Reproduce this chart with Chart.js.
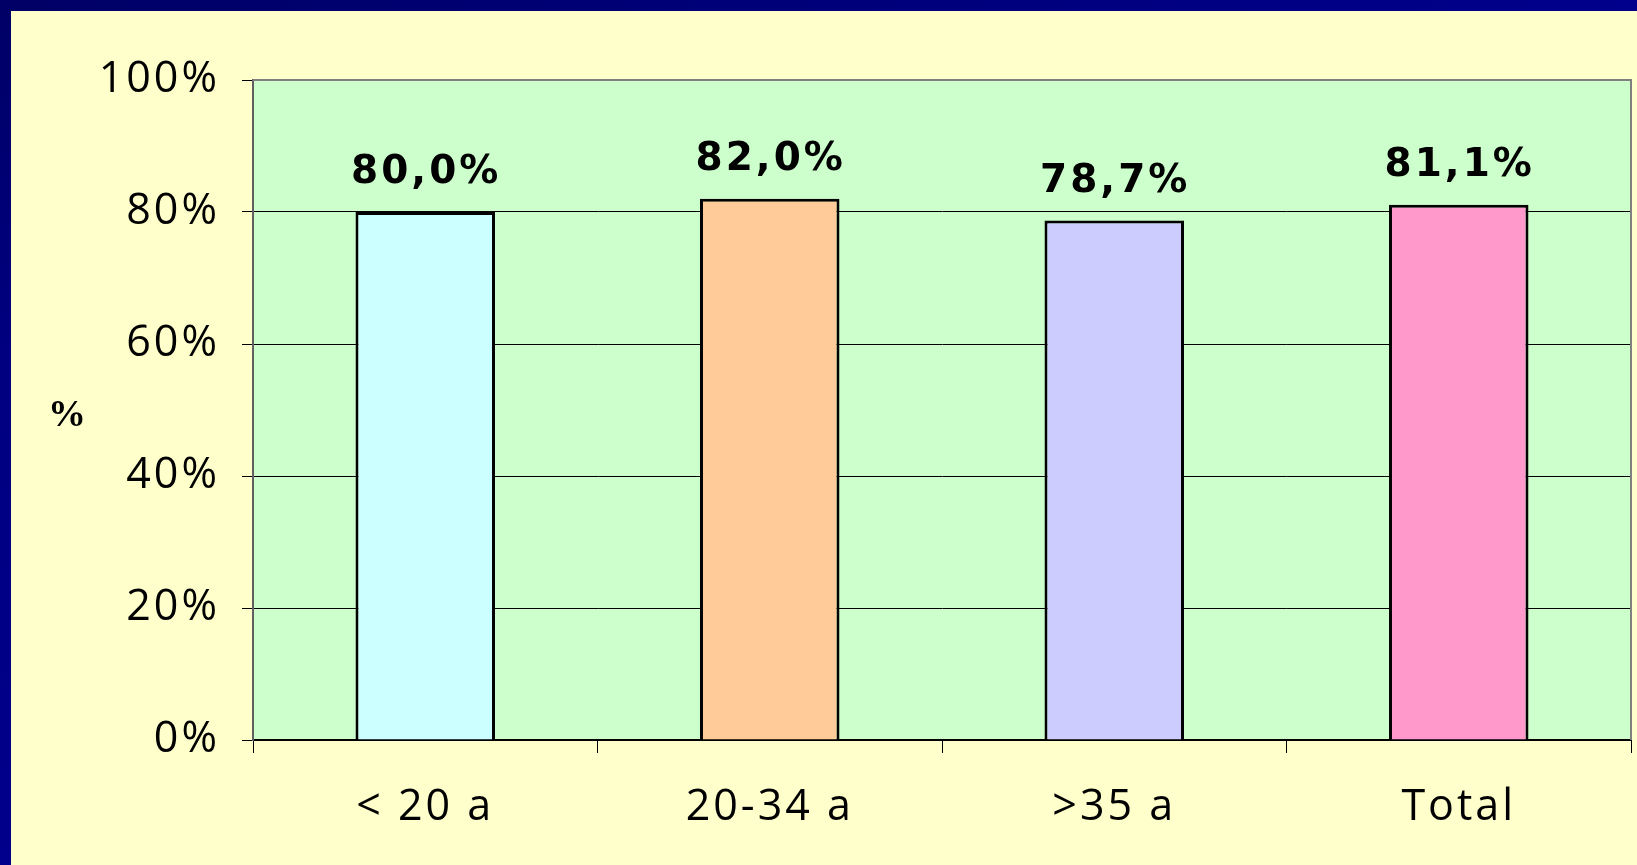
<!DOCTYPE html>
<html>
<head>
<meta charset="utf-8">
<script src="https://cdn.jsdelivr.net/npm/chart.js@4/dist/chart.umd.min.js"></script>
<style>
  html, body { margin: 0; padding: 0; background: #FFFFCC; overflow: hidden; }
  canvas { display: block; position: absolute; left: 0; top: 0; }
</style>
</head>
<body>
<canvas id="c" width="1637" height="865"></canvas>
<script>
// ---- data ----
const categories = ['< 20 a', '20-34 a', '>35 a', 'Total'];
const values = [80.0, 82.0, 78.7, 81.1];
const barColors = ['#CCFFFF', '#FFCC99', '#CCCCFF', '#FF99CC'];
const yTicks = [0, 20, 40, 60, 80, 100];
const yTitle = '%';

const plotBg = {
  id: 'plotBg',
  beforeDraw(chart) {
    const { ctx, chartArea: a, width, height } = chart;
    ctx.save();
    ctx.fillStyle = '#FFFFCC';
    ctx.fillRect(0, 0, width, height);
    let g = ctx.createLinearGradient(0, 0, width, 0);
    g.addColorStop(0, '#000066'); g.addColorStop(0.5, '#00007a'); g.addColorStop(1, '#00008c');
    ctx.fillStyle = g;
    ctx.fillRect(0, 0, width, 11);
    g = ctx.createLinearGradient(0, 0, 0, height);
    g.addColorStop(0, '#000066'); g.addColorStop(0.4, '#000080'); g.addColorStop(1, '#00008c');
    ctx.fillStyle = g;
    ctx.fillRect(0, 0, 11, height);
    ctx.fillStyle = '#CCFFCC';
    ctx.fillRect(a.left, a.top, a.right - a.left, a.bottom - a.top);
    ctx.restore();
    try { ctx.letterSpacing = '3px'; } catch (e) {}
  },
  afterDraw(chart) {
    const { ctx, chartArea: a } = chart;
    ctx.save();
    ctx.strokeStyle = '#808080';
    ctx.lineWidth = 2;
    ctx.beginPath();
    ctx.moveTo(a.left, a.top);
    ctx.lineTo(a.right, a.top);
    ctx.lineTo(a.right, a.bottom);
    ctx.stroke();
    try { ctx.letterSpacing = '0px'; } catch (e) {}
    ctx.fillStyle = '#000';
    ctx.font = 'bold 38px "Liberation Serif", serif';
    ctx.textAlign = 'center';
    ctx.textBaseline = 'middle';
    ctx.fillText(yTitle, 67, chart.scales.y.getPixelForValue(49));
    ctx.restore();
  }
};

const valueLabels = {
  id: 'valueLabels',
  afterDatasetsDraw(chart) {
    const { ctx } = chart;
    const meta = chart.getDatasetMeta(0);
    ctx.save();
    ctx.fillStyle = '#000';
    ctx.font = 'bold 39px "DejaVu Sans", sans-serif';
    try { ctx.letterSpacing = '3px'; } catch (e) {}
    ctx.textAlign = 'center';
    ctx.textBaseline = 'alphabetic';
    meta.data.forEach((bar, i) => {
      const txt = values[i].toFixed(1).replace('.', ',') + '%';
      ctx.fillText(txt, bar.x + 1, bar.y - 29);
    });
    ctx.restore();
  }
};

new Chart(document.getElementById('c'), {
  type: 'bar',
  data: {
    labels: categories,
    datasets: [{
      data: values,
      backgroundColor: barColors,
      borderColor: '#000',
      borderWidth: 3,
      barPercentage: 0.405,
      categoryPercentage: 1.0
    }]
  },
  options: {
    responsive: false,
    animation: false,
    events: [],
    layout: { padding: { top: 80, right: 6, bottom: 0, left: 0 } },
    plugins: { legend: { display: false }, tooltip: { enabled: false } },
    scales: {
      x: {
        afterFit(s) { s.height = 125; },
        grid: {
          offset: true,
          drawOnChartArea: false,
          drawTicks: true,
          tickLength: 13,
          color: '#000',
          lineWidth: 1
        },
        border: { display: true, color: '#000', width: 2 },
        ticks: {
          color: '#000',
          padding: 33,
          font: { family: '"Open Sans", sans-serif', size: 43, lineHeight: 1 }
        }
      },
      y: {
        min: 0, max: 100,
        afterFit(s) { s.width = 253; },
        afterBuildTicks(s) { s.ticks = yTicks.map(v => ({ value: v })); },
        grid: { color: '#000', lineWidth: 1, tickLength: 11 },
        border: { display: true, color: '#606060', width: 2 },
        ticks: {
          color: '#000',
          padding: 22,
          callback: v => v + '%',
          font: { family: '"Open Sans", sans-serif', size: 43, lineHeight: 1 }
        }
      }
    }
  },
  plugins: [plotBg, valueLabels]
});
</script>
</body>
</html>
